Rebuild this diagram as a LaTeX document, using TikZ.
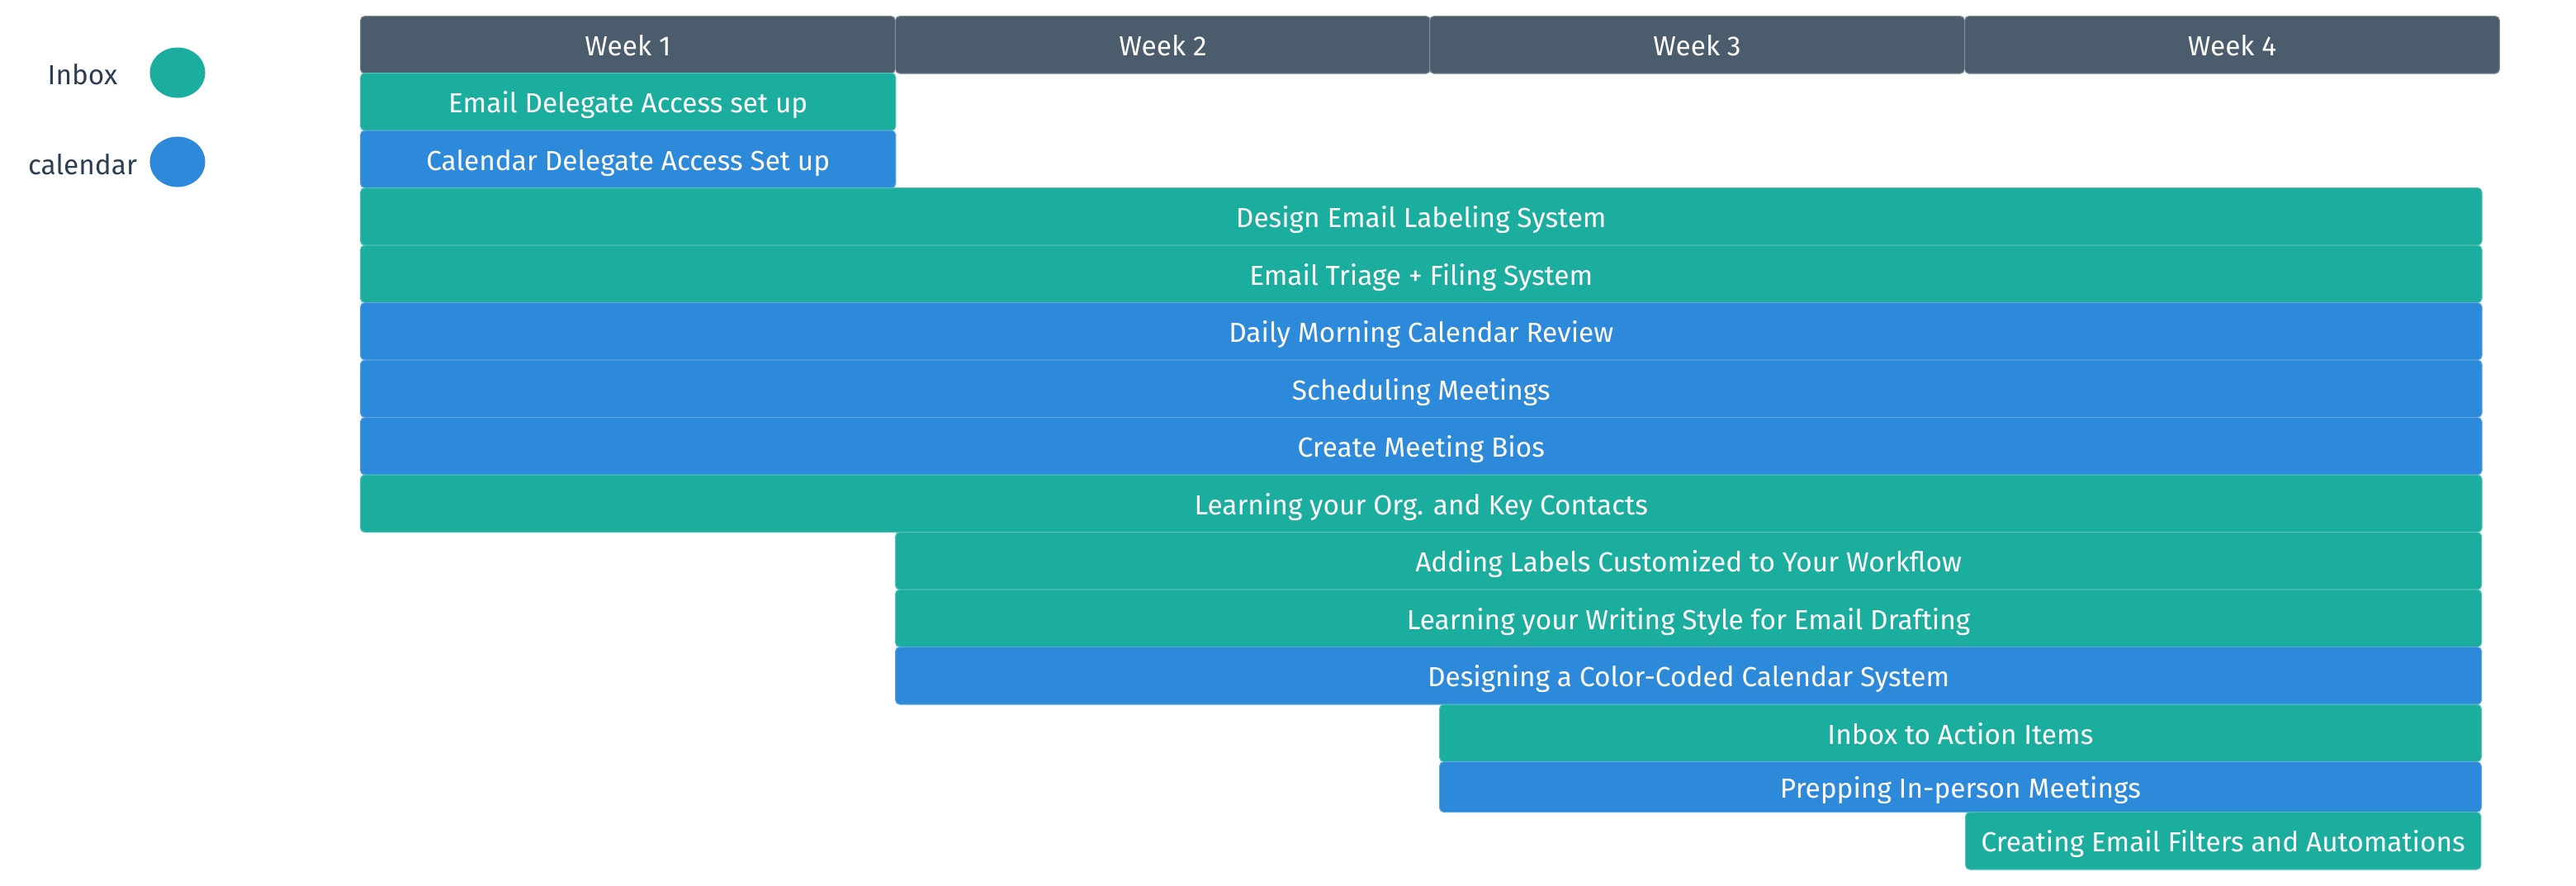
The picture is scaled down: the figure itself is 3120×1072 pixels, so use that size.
\documentclass[tikz,border=0pt]{standalone}
\usepackage{fontspec}
\setmainfont{Fira Sans}
\usepackage{tikz}
\usepackage{xcolor}
\usetikzlibrary{shapes.geometric}
\definecolor{hdrgray}{HTML}{4B5D6C}
\definecolor{inboxteal}{HTML}{1BAE9F}
\definecolor{calblue}{HTML}{2D89D9}
\definecolor{legtext}{HTML}{2C3E50}
\tikzstyle{cell} = [rectangle, rounded corners=1.5pt, anchor=north west, inner sep=0pt, text=white, font=\fontsize{9.5}{11}\selectfont, text height=7.6pt, text depth=0pt, minimum height=0.695cm]
\tikzstyle{week} = [cell, fill=hdrgray, draw=hdrgray!70!white, line width=0.3pt, minimum width=6.475cm]
\tikzstyle{inbox} = [cell, fill=inboxteal, draw=inboxteal!75!white, line width=0.3pt]
\tikzstyle{cal} = [cell, fill=calblue, draw=calblue!75!white, line width=0.3pt]
\tikzstyle{dot} = [ellipse, inner sep=0pt, minimum width=0.67cm, minimum height=0.61cm]
\tikzstyle{legend} = [text=legtext, font=\fontsize{9.5}{11}\selectfont, text height=7.6pt, text depth=0pt]

\begin{document}
\begin{tikzpicture}[x=0.01cm,y=-0.01cm]
  \useasboundingbox (0,0) rectangle (3120,1072);

  % legend
  \node[legend] (l_inbox) at (100,89) {Inbox};
  \node[dot, fill=inboxteal] (d_inbox) at (215,88) {};
  \node[legend] (l_cal) at (100,198) {calendar};
  \node[dot, fill=calblue] (d_cal) at (215,196) {};

  % weeks
  \node[week] (w1) at (436,19) {Week 1};
  \node[week] (w2) at (1084,19) {Week 2};
  \node[week] (w3) at (1731,19) {Week 3};
  \node[week] (w4) at (2379,19) {Week 4};

  % tasks
  \node[inbox, minimum width=6.48cm] (t1) at (436,88) {Email Delegate Access set up};
  \node[cal, minimum width=6.48cm] (t2) at (436,157.5) {Calendar Delegate Access Set up};
  \node[inbox, minimum width=25.68cm] (t3) at (436,227) {Design Email Labeling System};
  \node[inbox, minimum width=25.68cm] (t4) at (436,296.5) {Email Triage + Filing System};
  \node[cal, minimum width=25.68cm] (t5) at (436,366) {Daily Morning Calendar Review};
  \node[cal, minimum width=25.68cm] (t6) at (436,435.5) {Scheduling Meetings};
  \node[cal, minimum width=25.68cm] (t7) at (436,505) {Create Meeting Bios};
  \node[inbox, minimum width=25.68cm] (t8) at (436,574.5) {Learning your Org. and Key Contacts};
  \node[inbox, minimum width=19.2cm] (t9) at (1084,644) {Adding Labels Customized to Your Workflow};
  \node[inbox, minimum width=19.2cm] (t10) at (1084,713.5) {Learning your Writing Style for Email Drafting};
  \node[cal, minimum width=19.2cm] (t11) at (1084,783) {Designing a Color-Coded Calendar System};
  \node[inbox, minimum width=12.61cm] (t12) at (1743,852.5) {Inbox to Action Items};
  \node[cal, minimum width=12.61cm, minimum height=0.61cm] (t13) at (1743,922) {Prepping In-person Meetings};
  \node[inbox, minimum width=6.24cm] (t14) at (2380,983) {Creating Email Filters and Automations};
\end{tikzpicture}
\end{document}
